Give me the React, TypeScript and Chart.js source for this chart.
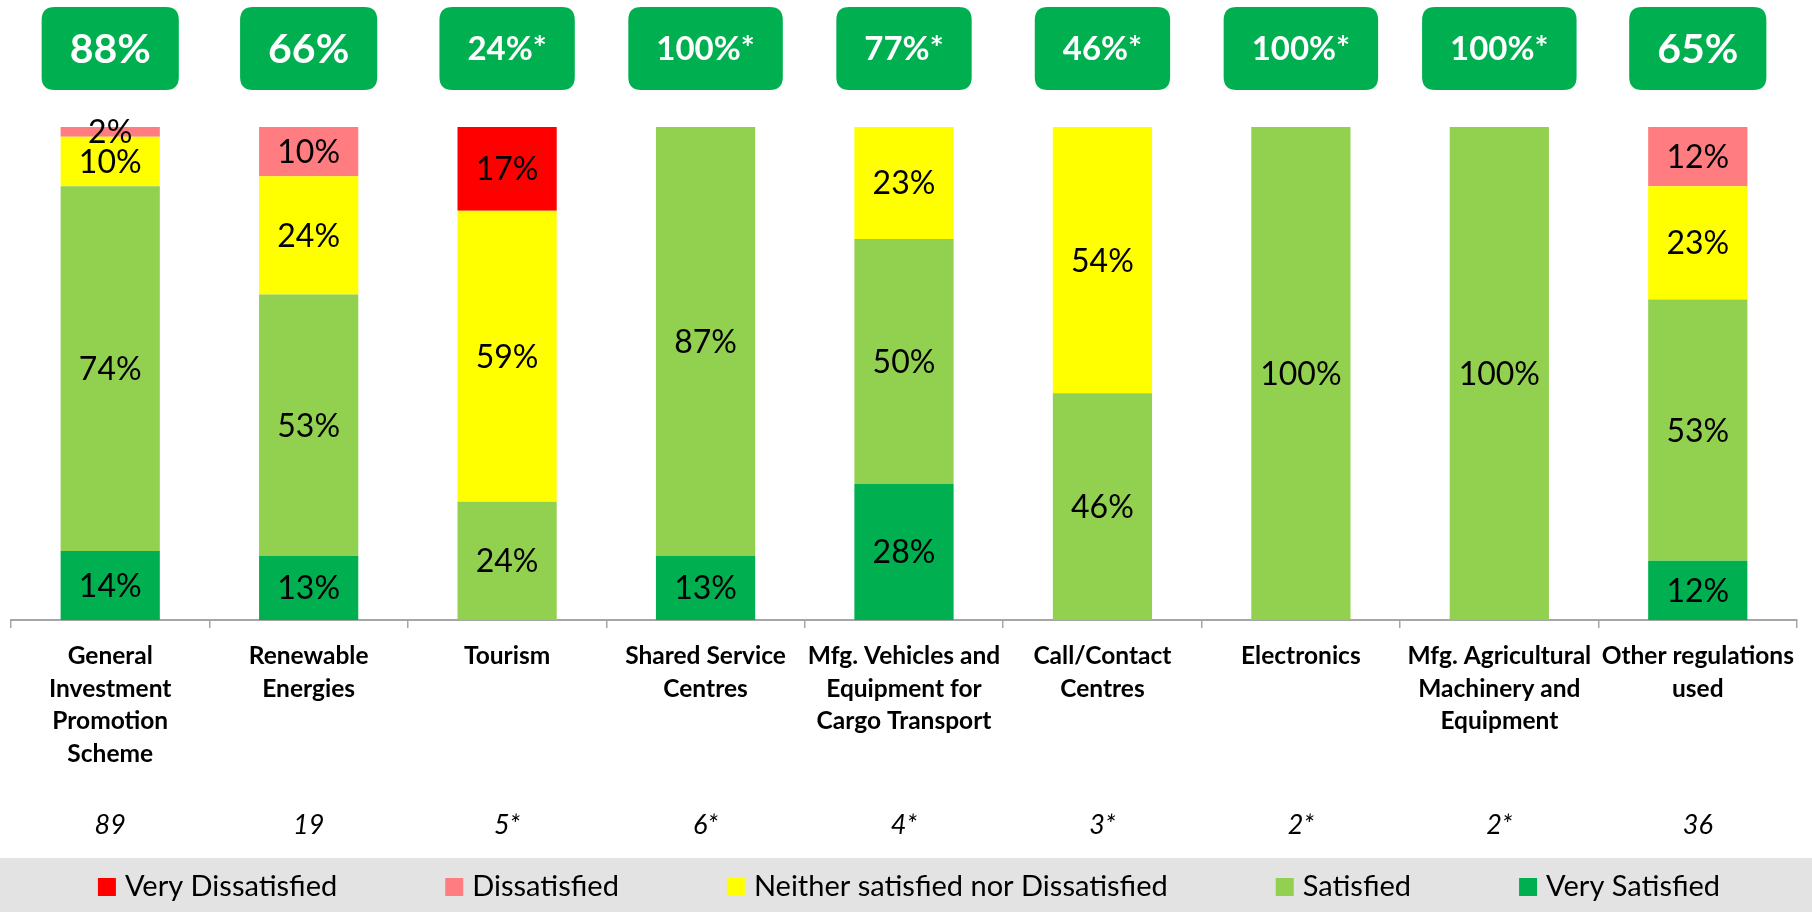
import React, { useEffect, useRef } from 'react';
import { Chart, registerables } from 'chart.js';

Chart.register(...registerables);

// ---------- data ----------
const categories: string[][] = [
  ['General', 'Investment', 'Promotion', 'Scheme'],
  ['Renewable', 'Energies'],
  ['Tourism'],
  ['Shared Service', 'Centres'],
  ['Mfg. Vehicles and', 'Equipment for', 'Cargo Transport'],
  ['Call/Contact', 'Centres'],
  ['Electronics'],
  ['Mfg. Agricultural', 'Machinery and', 'Equipment'],
  ['Other regulations', 'used'],
];

const veryDissatisfied = [0, 0, 17, 0, 0, 0, 0, 0, 0];
const dissatisfied = [2, 10, 0, 0, 0, 0, 0, 0, 12];
const neither = [10, 24, 59, 0, 22.7, 54, 0, 0, 23];
const satisfied = [74, 53, 24, 87, 49.7, 46, 100, 100, 53];
const verySatisfied = [14, 13, 0, 13, 27.6, 0, 0, 0, 12];

const topScores = ['88%', '66%', '24%*', '100%*', '77%*', '46%*', '100%*', '100%*', '65%'];
const sampleSizes = ['89', '19', '5*', '6*', '4*', '3*', '2*', '2*', '36'];

const seriesNames = [
  'Very Satisfied',
  'Satisfied',
  'Neither satisfied nor Dissatisfied',
  'Dissatisfied',
  'Very Dissatisfied',
];
const seriesColors = ['#00b050', '#92d050', '#ffff00', '#ff7c80', '#ff0000'];

const FONT = 'Lato, "Open Sans", "DejaVu Sans", sans-serif';
const CAP = 0.72;

// ---------- plugins ----------
const segmentLabels = {
  id: 'segmentLabels',
  afterDatasetsDraw(chart: any) {
    const ctx = chart.ctx;
    const size = 32;
    ctx.save();
    ctx.font = `${size}px ${FONT}`;
    ctx.fillStyle = '#000';
    ctx.textAlign = 'center';
    ctx.textBaseline = 'alphabetic';
    chart.data.datasets.forEach((ds: any, di: number) => {
      const meta = chart.getDatasetMeta(di);
      meta.data.forEach((el: any, i: number) => {
        const v = ds.data[i];
        if (!v) return;
        const p = el.getProps(['x', 'y', 'base'], true);
        const cy = (p.y + p.base) / 2;
        ctx.fillText(Math.round(v) + '%', p.x, cy + (size * CAP) / 2);
      });
    });
    ctx.restore();
  },
};

function roundRect(ctx: CanvasRenderingContext2D, x: number, y: number, w: number, h: number, r: number) {
  ctx.beginPath();
  ctx.moveTo(x + r, y);
  ctx.lineTo(x + w - r, y);
  ctx.quadraticCurveTo(x + w, y, x + w, y + r);
  ctx.lineTo(x + w, y + h - r);
  ctx.quadraticCurveTo(x + w, y + h, x + w - r, y + h);
  ctx.lineTo(x + r, y + h);
  ctx.quadraticCurveTo(x, y + h, x, y + h - r);
  ctx.lineTo(x, y + r);
  ctx.quadraticCurveTo(x, y, x + r, y);
  ctx.closePath();
}

const extras = {
  id: 'extras',
  afterDraw(chart: any) {
    const ctx: CanvasRenderingContext2D = chart.ctx;
    const xs = chart.scales.x;
    ctx.save();

    // top score boxes
    topScores.forEach((t, i) => {
      const x = xs.getPixelForValue(i);
      const size = t.includes('*') ? 33 : 41;
      ctx.font = `bold ${size}px ${FONT}`;
      const tw = ctx.measureText(t).width;
      const w = tw + 56;
      const top = 7;
      const h = 83;
      ctx.fillStyle = '#00b050';
      roundRect(ctx, x - w / 2, top, w, h, 13);
      ctx.fill();
      ctx.fillStyle = '#ffffff';
      ctx.textAlign = 'center';
      ctx.textBaseline = 'alphabetic';
      ctx.fillText(t, x, top + h / 2 + (size * CAP) / 2);
    });

    // sample sizes
    ctx.font = `italic 27px ${FONT}`;
    ctx.fillStyle = '#000';
    ctx.textAlign = 'center';
    sampleSizes.forEach((s, i) => {
      ctx.fillText(s, xs.getPixelForValue(i), 834);
    });

    // legend band
    const bandTop = 858;
    ctx.fillStyle = '#e3e3e3';
    ctx.fillRect(0, bandTop, chart.width, chart.height - bandTop);

    const items = chart.data.datasets
      .map((d: any) => ({ label: d.label, color: d.backgroundColor }))
      .reverse();
    const fsz = 29;
    ctx.font = `${fsz}px ${FONT}`;
    const box = 18;
    const gapBoxText = 9;
    const gapItems = 108;
    const widths = items.map((it: any) => box + gapBoxText + ctx.measureText(it.label).width);
    const total = widths.reduce((a: number, b: number) => a + b, 0) + gapItems * (items.length - 1);
    let x = chart.width / 2 - total / 2 + 3;
    const baseline = 896;
    items.forEach((it: any, i: number) => {
      ctx.fillStyle = it.color;
      ctx.fillRect(x, baseline - box, box, box);
      ctx.fillStyle = '#000';
      ctx.textAlign = 'left';
      ctx.fillText(it.label, x + box + gapBoxText, baseline);
      x += widths[i] + gapItems;
    });

    ctx.restore();
  },
};

export default function App() {
  const ref = useRef<HTMLCanvasElement | null>(null);

  useEffect(() => {
    document.body.style.margin = '0';
    const canvas = ref.current;
    if (!canvas) return;
    const series = [verySatisfied, satisfied, neither, dissatisfied, veryDissatisfied];
    const chart = new Chart(canvas, {
      type: 'bar',
      data: {
        labels: categories as any,
        datasets: series.map((data, i) => ({
          label: seriesNames[i],
          data,
          backgroundColor: seriesColors[i],
          borderWidth: 0,
          barPercentage: 0.5,
          categoryPercentage: 1.0,
        })),
      },
      options: {
        responsive: false,
        animation: false,
        events: [],
        layout: { padding: { top: 127, left: 11, right: 15, bottom: 0 } },
        plugins: {
          legend: { display: false },
          tooltip: { enabled: false },
        },
        scales: {
          x: {
            stacked: true,
            grid: {
              offset: true,
              drawOnChartArea: false,
              drawTicks: true,
              tickLength: 8,
              color: '#a6a6a6',
              lineWidth: 1.5,
            },
            border: { display: true, color: '#a6a6a6', width: 2 },
            ticks: {
              autoSkip: false,
              maxRotation: 0,
              minRotation: 0,
              color: '#000',
              padding: 12,
              font: { family: FONT, size: 24.5, weight: 'bold', lineHeight: '32.5px' },
            },
            afterFit: (s: any) => {
              s.height = 292;
            },
          },
          y: { stacked: true, display: false, min: 0, max: 100 },
        },
      },
      plugins: [segmentLabels, extras],
    });
    return () => chart.destroy();
  }, []);

  return (
    <div style={{ width: 1812, height: 912, background: '#fff' }}>
      <canvas ref={ref} width={1812} height={912} style={{ display: 'block' }} />
    </div>
  );
}
